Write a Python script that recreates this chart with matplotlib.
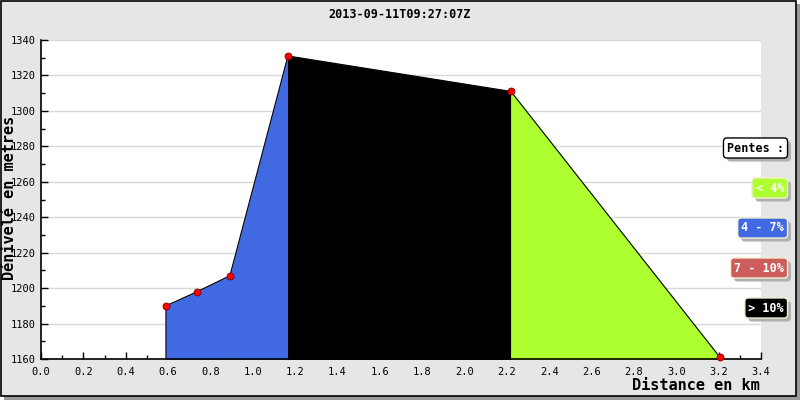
import matplotlib
matplotlib.use('Agg')
import matplotlib.pyplot as plt
import matplotlib.patheffects as pe
from matplotlib.patches import Rectangle
from matplotlib.ticker import MultipleLocator

# profile points (km, m)
distance = [0.59, 0.737, 0.892, 1.166, 2.219, 3.206]
altitude = [1190, 1198, 1207, 1331, 1311, 1161]
# colour of each segment between two points
segment_colors = ['#4169e1', '#4169e1', '#4169e1', '#000000', '#adff2f']

title = '2013-09-11T09:27:07Z'
legend_labels = ['< 4%', '4 - 7%', '7 - 10%', '> 10%']
legend_colors = ['#adff2f', '#4169e1', '#cd5c5c', '#000000']

mono = 'DejaVu Sans Mono'
fig = plt.figure(figsize=(8, 4), dpi=100)
fig.patch.set_facecolor('white')

# grey frame with shadow
fig.patches.append(Rectangle((4 / 800, 0), 796 / 800, 396 / 400, transform=fig.transFigure,
                             facecolor='#9a9a9a', edgecolor='none', zorder=-3))
fig.patches.append(Rectangle((0.5 / 800, 4 / 400), 795 / 800, 395.5 / 400, transform=fig.transFigure,
                             facecolor='#e6e6e6', edgecolor='black', lw=1.2, zorder=-2))

ax = fig.add_axes([41 / 800, 1 - 359 / 400, 720 / 800, 319 / 400])
ax.set_facecolor('white')
ymin, ymax = 1160, 1340
ax.set_xlim(0, 3.4)
ax.set_ylim(ymin, ymax)

for i in range(len(distance) - 1):
    ax.fill_between(distance[i:i + 2], altitude[i:i + 2], ymin,
                    facecolor=segment_colors[i], edgecolor=segment_colors[i],
                    lw=0.6, zorder=2)
ax.plot([distance[0]] + distance, [ymin] + altitude, color='black', lw=0.8, zorder=3)
ax.plot(distance, altitude, 'o', color='red', markeredgecolor='#800000',
        markeredgewidth=0.6, markersize=5, zorder=4, clip_on=False)

ax.xaxis.set_major_locator(MultipleLocator(0.2))
ax.xaxis.set_minor_locator(MultipleLocator(0.1))
ax.yaxis.set_major_locator(MultipleLocator(20))
ax.yaxis.set_minor_locator(MultipleLocator(10))
ax.xaxis.set_major_formatter(plt.FuncFormatter(lambda v, p: '%.1f' % v))
ax.yaxis.grid(True, color='#d9d9d9', lw=1)
ax.set_axisbelow(True)
ax.tick_params(which='both', direction='in', width=1, labelsize=7.5, colors='black')
ax.tick_params(which='major', length=5)
ax.tick_params(which='minor', length=3)
for lab in ax.get_xticklabels() + ax.get_yticklabels():
    lab.set_family(mono)
ax.tick_params(axis='x', pad=6)
ax.tick_params(axis='y', pad=4)
for s in ['top', 'right']:
    ax.spines[s].set_visible(False)
for s in ['left', 'bottom']:
    ax.spines[s].set_linewidth(1.2)

fig.text(0.5, 1 - 14 / 400, title, ha='center', va='center', family=mono,
         fontweight='bold', fontsize=8.5)
fig.text(760 / 800, 1 - 386 / 400, 'Distance en km', ha='right', va='center',
         family=mono, fontweight='bold', fontsize=11)
fig.text(10 / 800, 1 - 198 / 400, 'Dénivelé en metres', ha='center', va='center',
         rotation=90, family=mono, fontweight='bold', fontsize=11)


def badge(y, text, fc, tc, ec):
    t = fig.text(784 / 800, 1 - y / 400, text, ha='right', va='center', family=mono,
                 fontweight='bold', fontsize=8.5, color=tc,
                 bbox=dict(boxstyle='round,pad=0.3', fc=fc, ec=ec, lw=1))
    t.get_bbox_patch().set_path_effects([
        pe.SimplePatchShadow(offset=(2.5, -2.5), shadow_rgbFace='#b0b0b0', alpha=1),
        pe.Normal()])


badge(148, 'Pentes :', 'white', 'black', 'black')
for k, (lab, col) in enumerate(zip(legend_labels, legend_colors)):
    badge(188 + 40 * k, lab, col, 'white', '#f5f0d0')

fig.savefig('out.png', dpi=100)
